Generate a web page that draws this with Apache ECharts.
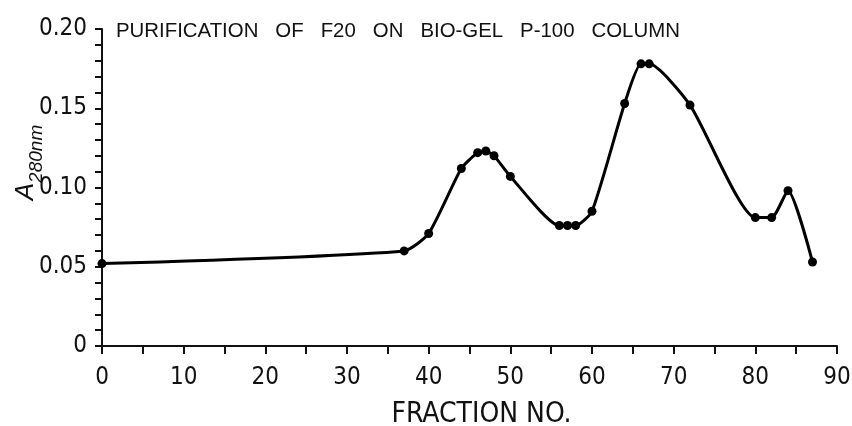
<!DOCTYPE html>
<html>
<head>
<meta charset="utf-8">
<script src="https://cdn.jsdelivr.net/npm/echarts@6/dist/echarts.min.js"></script>
<style>
html, body { margin: 0; padding: 0; background: #fff; }
#chart { width: 852px; height: 426px; }
</style>
</head>
<body>
<div id="chart"></div>
<script>
// fraction number vs absorbance at 280 nm
var fractions = [0, 37, 40, 44, 46, 47, 48, 50, 56, 57, 58, 60, 64, 66, 67, 72, 80, 82, 84, 87];
var absorbance = [0.052, 0.060, 0.071, 0.112, 0.122, 0.123, 0.120, 0.107, 0.076, 0.076, 0.076, 0.085, 0.153, 0.178, 0.178, 0.152, 0.081, 0.081, 0.098, 0.053];
var titleText = 'PURIFICATION   OF   F20   ON   BIO-GEL   P-100   COLUMN';

var narrow = "'Liberation Sans Narrow', 'DejaVu Sans Condensed', sans-serif";

var points = [];
for (var i = 0; i < fractions.length; i++) {
    points.push([fractions[i], absorbance[i]]);
}

var chart = echarts.init(document.getElementById('chart'));
var option = {
    backgroundColor: '#fff',
    animation: false,
    grid: { left: 102, right: 15, top: 29, bottom: 80, containLabel: false, outerBoundsMode: 'none' },
    graphic: [{
        type: 'text',
        x: 116,
        y: 31,
        style: {
            text: titleText,
            fill: '#111',
            font: "20.4px 'Liberation Sans', sans-serif",
            verticalAlign: 'middle',
            align: 'left'
        }
    }],
    xAxis: {
        type: 'value',
        min: 0,
        max: 90,
        interval: 10,
        name: 'FRACTION NO.',
        nameLocation: 'middle',
        nameGap: 55,
        nameMoveOverlap: false,
        nameTextStyle: { fontSize: 28, color: '#111', fontFamily: narrow, padding: [0, 0, 0, 24] },
        axisLine: { lineStyle: { color: '#111', width: 2 } },
        axisTick: { show: true, inside: false, length: 8, lineStyle: { color: '#111', width: 2 } },
        minorTick: { show: true, splitNumber: 2, length: 8, lineStyle: { color: '#111', width: 2 } },
        axisLabel: { fontSize: 24, color: '#111', fontFamily: narrow, margin: 20 },
        splitLine: { show: false }
    },
    yAxis: {
        type: 'value',
        min: 0,
        max: 0.2,
        interval: 0.05,
        name: '{a|A}{s|280nm}',
        nameLocation: 'middle',
        nameRotate: 90,
        nameGap: 56,
        nameMoveOverlap: false,
        nameTextStyle: {
            padding: [0, 0, 0, 50],
            rich: {
                a: { fontSize: 26, fontStyle: 'italic', color: '#111', fontFamily: "'Liberation Sans', sans-serif", lineHeight: 40, verticalAlign: 'middle' },
                s: { fontSize: 19, fontStyle: 'italic', color: '#111', fontFamily: "'Liberation Sans', sans-serif", verticalAlign: 'bottom' }
            }
        },
        axisLine: { show: true, lineStyle: { color: '#111', width: 2 } },
        axisTick: { show: true, inside: false, length: 7, lineStyle: { color: '#111', width: 2 } },
        minorTick: { show: true, splitNumber: 5, length: 7, lineStyle: { color: '#111', width: 2 } },
        axisLabel: {
            fontSize: 24,
            color: '#111',
            fontFamily: narrow,
            margin: 15,
            formatter: function (v) { return v === 0 ? '0' : v.toFixed(2); }
        },
        splitLine: { show: false }
    },
    series: [{
        type: 'line',
        data: points,
        smooth: 0.2,
        symbol: 'circle',
        symbolSize: 9,
        lineStyle: { color: '#000', width: 3 },
        itemStyle: { color: '#000' }
    }]
};
chart.setOption(option);
</script>
</body>
</html>
